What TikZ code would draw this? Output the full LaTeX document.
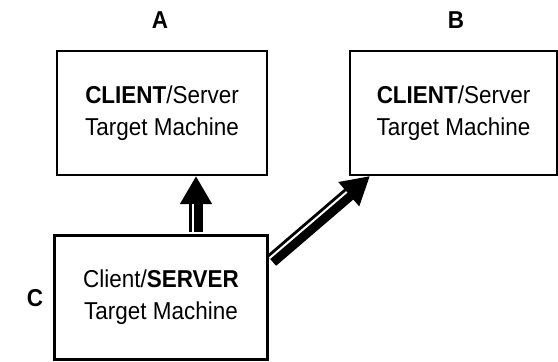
\documentclass[tikz,border=0pt]{standalone}
\usepackage{fontspec}
\setmainfont{Liberation Sans}[FakeStretch=0.92]
\usetikzlibrary{arrows.meta}
\usetikzlibrary{calc}

\begin{document}
\begin{tikzpicture}[x=1bp, y=-1bp, line join=miter,
  box/.style={draw, line width=2bp, minimum height=124bp, align=center, inner sep=0pt, font=\fontsize{24.5}{32}\selectfont},
  tag/.style={font=\fontsize{24.5}{28}\selectfont\bfseries},
  fatarrow/.style={line width=14bp, -{Triangle[length=28bp, width=30bp]}},
  stripe/.style={white, line width=2bp}]

\useasboundingbox (0,0) rectangle (558,361);

\node[box, minimum width=210bp] (A) at (162,113) {\textbf{CLIENT}/Server\\Target Machine};
\node[box, minimum width=207bp] (B) at (453.5,113) {\textbf{CLIENT}/Server\\Target Machine};
\node[box, minimum width=212bp, line width=3bp] (C) at (161,297) {Client/\textbf{SERVER}\\Target Machine};

\node[tag] (tagA) at (160,20) {A};
\node[tag] (tagB) at (456,20) {B};
\node[tag] (tagC) at (35,298) {C};

%---------------------------------------------------------------------------------------------------
% C -> A
\coordinate (upS) at ([xshift=35bp, yshift=1.5bp]C.north);
\coordinate (upT) at (upS |- A.south);
\coordinate (upH) at ($(upT)!28bp!(upS)$);
\draw[fatarrow] (upS) -- (upT);
\draw[stripe]  ([xshift=-3bp]upS) -- ([xshift=-3bp]upH);

% C -> B
\coordinate (diS) at ([xshift=3bp, yshift=-27bp]C.north east);
\coordinate (diT) at ([xshift=21bp]B.south west);
\coordinate (diH) at ($(diT)!28bp!(diS)$);
\draw[fatarrow] (diS) -- (diT);
\draw[stripe]  ([xshift=-2bp, yshift=2.3bp]diS) -- ([xshift=-2bp, yshift=2.3bp]diH);

\end{tikzpicture}
\end{document}
